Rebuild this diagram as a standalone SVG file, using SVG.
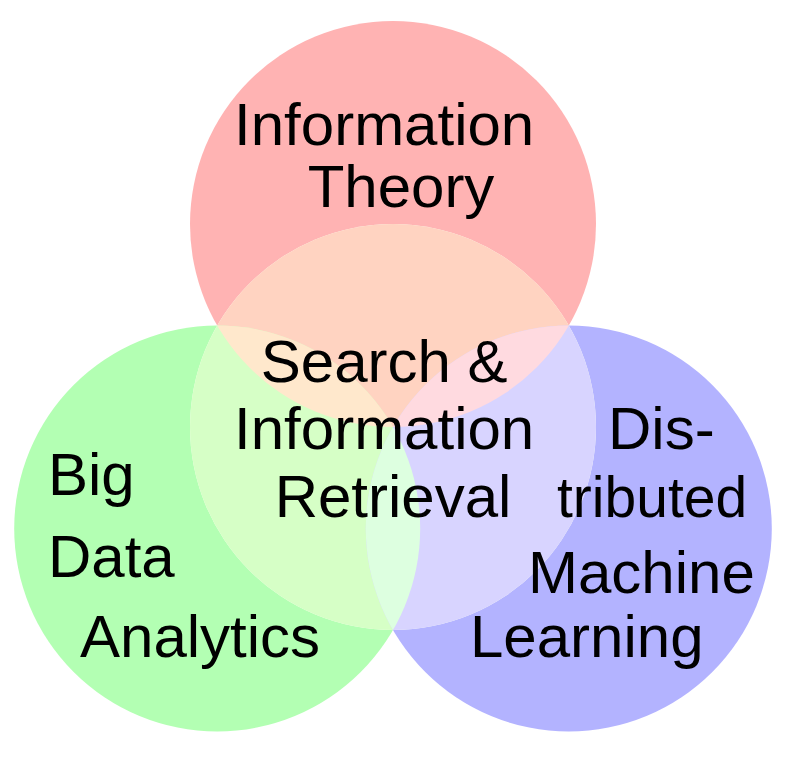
<svg xmlns="http://www.w3.org/2000/svg" width="791" height="761" viewBox="0 0 791 761">
  <style>
    .label { font-family: "Liberation Sans", Arial, sans-serif; font-size: 60px; fill: #000; }
    .mid { text-anchor: middle; }
    .small { font-size: 57px; }
  </style>
  <defs>
    <!-- the four set outlines, reused for fills and clipping -->
    <circle id="setR" cx="393" cy="224" r="203"/>
    <circle id="setG" cx="217.2" cy="528.5" r="203"/>
    <circle id="setB" cx="568.8" cy="528.5" r="203"/>
    <circle id="setC" cx="393" cy="427" r="203"/>
    <clipPath id="clipR"><use href="#setR"/></clipPath>
    <clipPath id="clipG"><use href="#setG"/></clipPath>
    <clipPath id="clipB"><use href="#setB"/></clipPath>
  </defs>

  <rect width="791" height="761" fill="#fff"/>

  <!-- set regions -->
  <g id="information-theory">
    <use href="#setR" fill="#FFB3B3"/>
  </g>
  <g id="big-data-analytics">
    <use href="#setG" fill="#B3FFB3"/>
  </g>
  <g id="distributed-machine-learning">
    <use href="#setB" fill="#B3B3FF"/>
  </g>
  <g id="search-information-retrieval">
    <use href="#setC" fill="#FAFFF4"/>
    <use href="#setC" fill="#FFD3C1" clip-path="url(#clipR)"/>
    <use href="#setC" fill="#D6FFC6" clip-path="url(#clipG)"/>
    <use href="#setC" fill="#D8D4FF" clip-path="url(#clipB)"/>
    <g clip-path="url(#clipR)"><use href="#setC" fill="#FFE8CC" clip-path="url(#clipG)"/></g>
    <g clip-path="url(#clipR)"><use href="#setC" fill="#FFDAE0" clip-path="url(#clipB)"/></g>
    <g clip-path="url(#clipG)"><use href="#setC" fill="#DDFFE0" clip-path="url(#clipB)"/></g>
  </g>

  <!-- set names -->
  <g id="labels">
    <text class="label mid" id="label-theory">
      <tspan x="392.5" y="145">Information</tspan>
      <tspan x="401" y="207">Theory</tspan>
    </text>
    <text class="label mid" id="label-search">
      <tspan x="392.5" y="382">Search &amp;</tspan>
      <tspan x="392.5" y="449">Information</tspan>
      <tspan x="393" y="517">Retrieval</tspan>
    </text>
    <text class="label" id="label-bigdata">
      <tspan x="48" y="495">Big</tspan>
      <tspan x="48" y="577">Data</tspan>
      <tspan x="80" y="657">Analytics</tspan>
    </text>
    <text class="label" id="label-distml">
      <tspan x="608" y="449">Dis-</tspan>
      <tspan class="small" x="557" y="517">tributed</tspan>
      <tspan x="528" y="593">Machine</tspan>
      <tspan x="470" y="657">Learning</tspan>
    </text>
  </g>
</svg>
